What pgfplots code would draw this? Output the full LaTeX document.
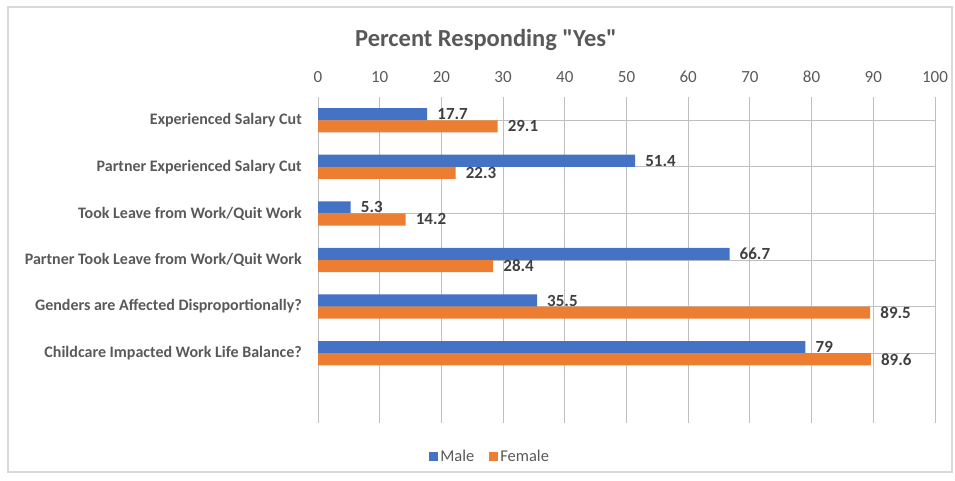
\documentclass[border=0pt]{standalone}
\usepackage{fontspec}
\setmainfont{Carlito}
\newfontfamily\plainfont{Carlito}
\usepackage{pgfplots}
\pgfplotsset{compat=1.18}
\definecolor{male}{HTML}{4472C4}
\definecolor{female}{HTML}{ED7D31}
\definecolor{txt}{HTML}{595959}
\definecolor{lbl}{HTML}{404040}
\definecolor{grid}{HTML}{D9D9D9}
\begin{document}
\begin{tikzpicture}
\path[use as bounding box] (0pt,0pt) rectangle (955pt,480pt);
\draw[grid, line width=1.5pt] (8pt,8pt) rectangle (952pt,473pt);
\node[font=\plainfont\fontsize{24.5}{29}\selectfont\bfseries, text=txt] at (486pt,440pt) {Percent Responding "Yes"};
\begin{axis}[
  at={(318pt,57pt)}, anchor=south west,
  scale only axis, width=617pt, height=326pt,
  xbar, bar width=0.26,
  xmin=0, xmax=100, ymin=-0.5, ymax=6.5,
  xtick={0,10,...,100},
  xticklabel pos=upper,
  xmajorgrids, grid style={grid, line width=1pt},
  axis line style={draw=none},
  major tick length=0pt,
  ytick={1,2,3,4,5,6},
  yticklabels={Childcare Impacted Work Life Balance?, Genders are Affected Disproportionally?, Partner Took Leave from Work/Quit Work, Took Leave from Work/Quit Work, Partner Experienced Salary Cut, Experienced Salary Cut},
  yticklabel style={font=\fontsize{16}{19}\selectfont\bfseries, text=txt, inner sep=0pt, xshift=-16pt},
  xticklabel style={font=\fontsize{17}{20}\selectfont, text=txt, inner sep=0pt, yshift=14pt, /pgf/number format/assume math mode=true},
  nodes near coords,
  every node near coord/.append style={font=\fontsize{17}{20}\selectfont\bfseries, text=lbl, anchor=west, inner sep=0pt, xshift=10pt, /pgf/number format/assume math mode=true},
  legend style={at={(0.279,-0.104)}, anchor=center, draw=none, fill=none, legend columns=-1,
    font=\fontsize{16.5}{19}\selectfont, text=txt,
    nodes={inner sep=2pt},
    /tikz/every even column/.append style={column sep=13pt}},
  legend image code/.code={\fill[#1, draw=none] (0pt,-4.5pt) rectangle (9pt,4.5pt);},
]
% Male
\addplot[fill=male, draw=none, bar shift=0.13] coordinates {
(17.7,6) (51.4,5) (5.3,4) (66.7,3) (35.5,2) (79,1)
};
% Female
\addplot[fill=female, draw=none, bar shift=-0.13] coordinates {
(29.1,6) (22.3,5) (14.2,4) (28.4,3) (89.5,2) (89.6,1)
};
\legend{Male, Female}
\end{axis}
\end{tikzpicture}
\end{document}
